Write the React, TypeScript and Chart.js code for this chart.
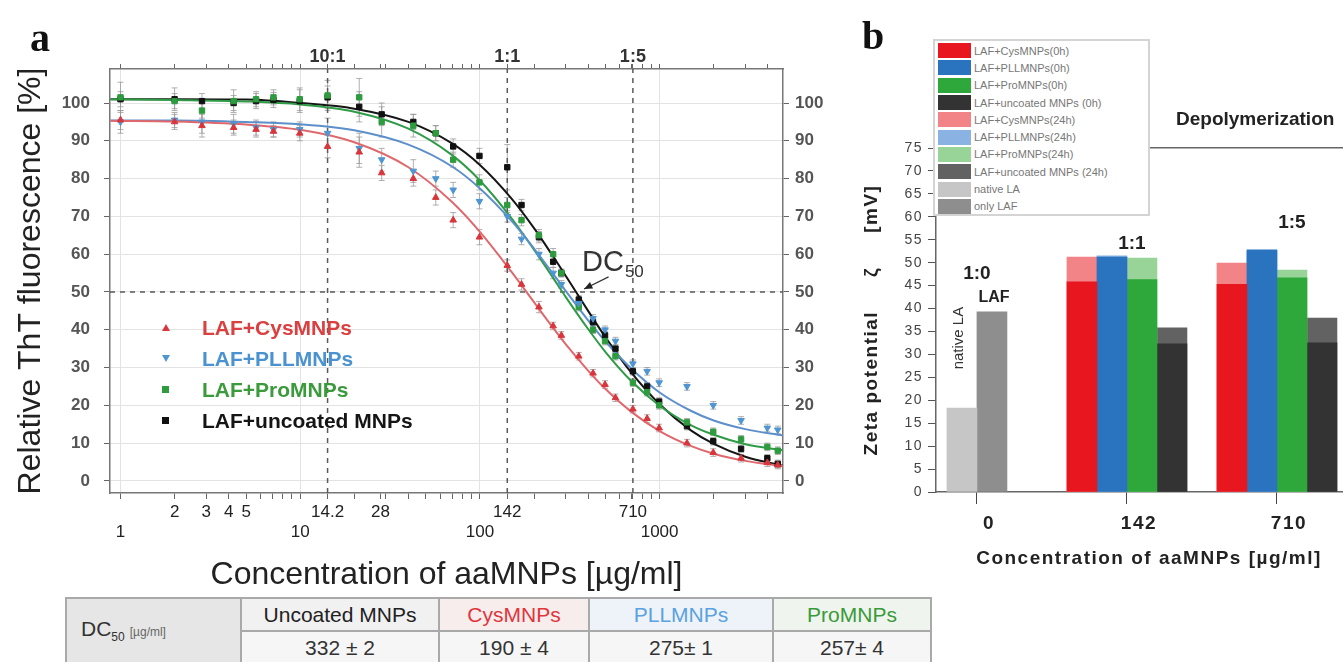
import React, { useEffect, useRef } from 'react';
import { Chart, registerables } from 'chart.js';

Chart.register(...registerables);

const SANS = '"Liberation Sans", Arial, Helvetica, sans-serif';
const SERIF = '"Liberation Serif", "Times New Roman", serif';

// ---------------- Panel a: ThT fluorescence vs concentration ----------------
const concentrations = [1, 2, 2.84, 4.26, 5.68, 7.1, 9.94, 14.2, 21.3, 28.4, 42.6, 56.8, 71, 99.4, 142, 170.4, 213, 255.6, 284, 355, 426, 497, 568, 710, 852, 994, 1420, 1988, 2840, 3976, 4544];
const cysMNPs = [95.5, 95, 94, 93.5, 93, 92.5, 92, 88.5, 87, 81.5, 80, 75, 69, 64.5, 57, 52, 46, 41, 38.5, 33, 28.5, 25.5, 22, 19, 16.5, 14, 10, 7.5, 6, 4.8, 4.2];
const pllMNPs = [95, 95.5, 95, 94.5, 93.5, 93, 93, 92, 88, 85, 82, 80, 77, 74, 70, 64, 60, 55, 52, 47, 43, 40, 37, 31, 29, 26, 25, 20, 16, 14, 13.5];
const proMNPs = [101.5, 100.5, 98, 100.5, 101, 101.5, 101, 102, 101.5, 95, 94, 92, 85, 79, 73, 69, 65, 60, 55, 46, 40, 37, 33, 26, 23.5, 20, 15.5, 13, 11, 9, 8];
const uncoatedMNPs = [101, 101, 100.5, 100, 100.5, 100.8, 100.5, 101.5, 99, 97, 95, 92, 88.5, 86, 83, 73, 64.5, 58, 55, 48, 42, 38.5, 35, 29, 25, 21, 14.5, 10.5, 8.5, 6, 4.5];

const cysErrors = [2.5, 2, 3, 2, 2, 1.5, 2, 3, 4, 2, 2, 2, 2, 2, 1.5, 1.5, 1.5, 1, 1, 1, 1, 1, 1, 1, 1, 1, 1, 1, 1, 1, 1];
const pllErrors = [3, 2, 3, 2.5, 2, 2, 2, 4, 4, 3, 3, 2, 2, 2, 1.5, 1.5, 1.5, 1.5, 1, 1, 1, 1, 1, 1, 1, 1, 1, 1, 1, 1, 1];
const proErrors = [4, 2, 2, 3, 2, 2, 3, 4, 5, 4, 3, 2, 2, 2, 2, 1.5, 1.5, 1.5, 1, 1, 1, 1, 1, 1, 1, 1, 1, 1, 1, 1, 1];
const uncoatedErrors = [2, 3, 2, 2, 2, 2, 3, 3, 4, 3, 2, 2, 2, 2, 6, 1.5, 1.5, 1.5, 1, 1, 1, 1, 1, 1, 1, 1, 1, 1, 1, 1, 1];

const fitConcentrations = [0.88, 2, 5, 10, 20, 40, 70, 100, 150, 200, 250, 300, 400, 500, 700, 1000, 1500, 2000, 3000, 4850];
const cysFit = [95.3, 95.1, 94.3, 92.9, 89.6, 83.0, 73.8, 65.9, 55.3, 47.3, 41.1, 36.2, 29.2, 24.3, 18.2, 13.2, 9.2, 7.2, 5.3, 3.9];
const pllFit = [95.4, 95.4, 95.0, 94.4, 92.8, 89.0, 83.2, 77.4, 68.8, 61.5, 55.4, 50.3, 42.5, 36.9, 29.6, 23.4, 18.5, 16.0, 13.7, 12.0];
const proFit = [101, 100.8, 100.4, 99.6, 97.7, 93.2, 86.2, 79.5, 69.5, 61.2, 54.4, 48.7, 40.2, 34.1, 26.3, 19.9, 14.7, 12.2, 9.7, 8.1];
const uncoatedFit = [101, 101, 100.9, 100.0, 98.5, 95.0, 89.3, 83.6, 74.7, 66.9, 60.1, 54.3, 45.0, 38.0, 28.5, 20.3, 13.3, 9.8, 6.4, 4.0];

const concTickValues = [1, 2, 3, 4, 5, 6, 7, 8, 9, 10, 14.2, 20, 28, 30, 40, 50, 60, 70, 80, 90, 100, 142, 200, 300, 400, 500, 600, 700, 710, 800, 900, 1000, 2000, 3000, 4000];
const concLabelValues = [1, 2, 3, 4, 5, 10, 14.2, 28, 100, 142, 710, 1000];
const concLabelTexts = ['1', '2', '3', '4', '5', '10', '14.2', '28', '100', '142', '710', '1000'];
const decadeValues = [1, 10, 100, 1000];
const ratioTickValues = [14.2, 142, 710];
const ratioTickTexts = ['10:1', '1:1', '1:5'];
const fluorescenceTicks = [0, 5, 10, 15, 20, 25, 30, 35, 40, 45, 50, 55, 60, 65, 70, 75, 80, 85, 90, 95, 100];
const halfLevel = 50;

// ---------------- Panel b: zeta potential ----------------
const zetaCategories = ['0', '142', '710'];
const nativeLA = [18.3];
const onlyLAF = [39.3];
const cys0h = [45.8, 45.3];
const pll0h = [51.2, 52.8];
const pro0h = [46.3, 46.7];
const uncoated0h = [32.3, 32.5];
const cys24h = [51.2, 49.9];
const pll24h = [51.5, 52.5];
const pro24h = [51.0, 48.4];
const uncoated24h = [35.8, 37.9];
const zetaTicks = [0, 5, 10, 15, 20, 25, 30, 35, 40, 45, 50, 55, 60, 65, 70, 75];

// ---------------- DC50 table ----------------
const dcHeaders = ['Uncoated MNPs', 'CysMNPs', 'PLLMNPs', 'ProMNPs'];
const dcValues = ['332 ± 2', '190 ± 4', '275± 1', '257± 4'];

// ---------------- geometry / styles ----------------
const A_W = 850, A_H = 600;
const X_MIN = 0.874, X_MAX = 4860;
const Y_MIN = -3.2, Y_MAX = 109;
const B_W = 512, B_H = 600;

const seriesA = [
  { label: 'LAF+CysMNPs', values: cysMNPs, errors: cysErrors, fit: cysFit, color: '#d8363c', lineColor: '#e0686c', text: '#d9403f', style: 'triangle', rotation: 0 },
  { label: 'LAF+PLLMNPs', values: pllMNPs, errors: pllErrors, fit: pllFit, color: '#4f95d2', lineColor: '#5d8fca', text: '#4a92d0', style: 'triangle', rotation: 180 },
  { label: 'LAF+ProMNPs', values: proMNPs, errors: proErrors, fit: proFit, color: '#2e9b3e', lineColor: '#2f9b47', text: '#3b9a3b', style: 'rect', rotation: 0 },
  { label: 'LAF+uncoated MNPs', values: uncoatedMNPs, errors: uncoatedErrors, fit: uncoatedFit, color: '#111111', lineColor: '#151515', text: '#151515', style: 'rect', rotation: 0 },
];

const zetaSeries = [
  { label: 'LAF+CysMNPs(0h)', values: cys0h, start: 1, stack: 'cys', color: '#e8161e' },
  { label: 'LAF+PLLMNPs(0h)', values: pll0h, start: 1, stack: 'pll', color: '#2a73bf' },
  { label: 'LAF+ProMNPs(0h)', values: pro0h, start: 1, stack: 'pro', color: '#2ea83a' },
  { label: 'LAF+uncoated MNPs (0h)', values: uncoated0h, start: 1, stack: 'unc', color: '#333333' },
  { label: 'LAF+CysMNPs(24h)', values: cys24h, start: 1, stack: 'cys', color: '#f28487' },
  { label: 'LAF+PLLMNPs(24h)', values: pll24h, start: 1, stack: 'pll', color: '#8ab2e2' },
  { label: 'LAF+ProMNPs(24h)', values: pro24h, start: 1, stack: 'pro', color: '#98d498' },
  { label: 'LAF+uncoated MNPs (24h)', values: uncoated24h, start: 1, stack: 'unc', color: '#626262' },
  { label: 'native LA', values: nativeLA, start: 0, stack: 'nla', color: '#c6c6c6' },
  { label: 'only LAF', values: onlyLAF, start: 0, stack: 'laf', color: '#8e8e8e' },
];

const dcHeaderColors = ['#222', '#e0353b', '#5aa2e0', '#3a9a3a'];
const dcHeaderBg = ['#f1f1f1', '#f8eded', '#eef3f9', '#eff5ee'];
const dcColWidths = [198, 150, 184, 158];

const findLabel = (v: number) => concLabelValues.findIndex((c) => Math.abs(c - v) < 1e-9);

function PanelA() {
  const ref = useRef<HTMLCanvasElement>(null);
  useEffect(() => {
    const errorBars = {
      id: 'errorBars',
      beforeDatasetsDraw(chart: any) {
        const { ctx, chartArea, scales } = chart;
        const x = scales.x, y = scales.y;
        ctx.save();
        ctx.beginPath();
        ctx.rect(chartArea.left, chartArea.top, chartArea.right - chartArea.left, chartArea.bottom - chartArea.top);
        ctx.clip();
        ctx.lineWidth = 1;
        ctx.strokeStyle = 'rgba(150,150,150,0.75)';
        seriesA.forEach((s) => {
          concentrations.forEach((c, i) => {
            const px = x.getPixelForValue(c);
            const top = y.getPixelForValue(s.values[i] + s.errors[i]);
            const bot = y.getPixelForValue(s.values[i] - s.errors[i]);
            ctx.beginPath();
            ctx.moveTo(px, top); ctx.lineTo(px, bot);
            ctx.moveTo(px - 3, top); ctx.lineTo(px + 3, top);
            ctx.moveTo(px - 3, bot); ctx.lineTo(px + 3, bot);
            ctx.stroke();
          });
        });
        ctx.restore();
      },
    };
    const dcAnnotation = {
      id: 'dcAnnotation',
      afterDatasetsDraw(chart: any) {
        const { ctx, scales } = chart;
        const x = scales.x, y = scales.y;
        const tx = x.getPixelForValue(370), ty = y.getPixelForValue(55.5);
        ctx.save();
        ctx.fillStyle = '#333';
        ctx.font = `29px ${SANS}`;
        ctx.textBaseline = 'alphabetic';
        ctx.fillText('DC', tx, ty);
        const w = ctx.measureText('DC').width;
        ctx.font = `17px ${SANS}`;
        ctx.fillText('50', tx + w + 1, ty + 6);
        const x1 = x.getPixelForValue(520), y1 = y.getPixelForValue(54);
        const x2 = x.getPixelForValue(380), y2 = y.getPixelForValue(50.8);
        ctx.strokeStyle = '#333';
        ctx.lineWidth = 1.2;
        ctx.beginPath(); ctx.moveTo(x1, y1); ctx.lineTo(x2, y2); ctx.stroke();
        const ang = Math.atan2(y2 - y1, x2 - x1);
        ctx.beginPath();
        ctx.moveTo(x2, y2);
        ctx.lineTo(x2 - 9 * Math.cos(ang - 0.4), y2 - 9 * Math.sin(ang - 0.4));
        ctx.lineTo(x2 - 9 * Math.cos(ang + 0.4), y2 - 9 * Math.sin(ang + 0.4));
        ctx.closePath();
        ctx.fillStyle = '#222';
        ctx.fill();
        ctx.restore();
      },
    };

    const scatterSets = seriesA.map((s) => ({
      type: 'scatter',
      label: s.label,
      data: concentrations.map((c, i) => ({ x: c, y: s.values[i] })),
      pointStyle: s.style,
      rotation: s.rotation,
      pointRadius: 3.8,
      backgroundColor: s.color,
      borderColor: s.color,
      borderWidth: 1,
      showLine: false,
      order: 0,
    }));
    const fitSets = seriesA.map((s) => ({
      type: 'line',
      label: s.label + ' fit',
      data: fitConcentrations.map((c, i) => ({ x: c, y: s.fit[i] })),
      borderColor: s.lineColor,
      borderWidth: 2,
      pointRadius: 0,
      cubicInterpolationMode: 'monotone',
      showLine: true,
      fill: false,
      order: 1,
    }));
    const refSets = [
      ...ratioTickValues.map((v) => ({ type: 'line', data: [{ x: v, y: Y_MIN }, { x: v, y: Y_MAX }] })),
      { type: 'line', data: [{ x: X_MIN, y: halfLevel }, { x: X_MAX, y: halfLevel }] },
    ].map((d) => ({ ...d, borderColor: '#5a5a5a', borderDash: [5, 5], borderWidth: 1.5, pointRadius: 0, showLine: true, fill: false, order: 2 }));

    const tickFont = { size: 17, family: SANS, weight: 'bold' as const };
    const chart = new Chart(ref.current as HTMLCanvasElement, {
      type: 'scatter',
      data: { datasets: [...scatterSets, ...fitSets, ...refSets] as any },
      options: {
        responsive: false,
        animation: false,
        devicePixelRatio: 1,
        layout: { padding: 0 },
        plugins: { legend: { display: false }, tooltip: { enabled: false } },
        scales: {
          x: {
            type: 'logarithmic',
            position: 'bottom',
            min: X_MIN,
            max: X_MAX,
            afterBuildTicks: (s: any) => { s.ticks = concTickValues.map((v) => ({ value: v })); },
            afterFit: (s: any) => { s.height = A_H - 493; },
            ticks: {
              autoSkip: false, maxRotation: 0, minRotation: 0, padding: 3,
              color: '#222', font: { size: 17, family: SANS },
              callback: (v: any) => {
                const i = findLabel(Number(v));
                if (i < 0) return '';
                return decadeValues.includes(concLabelValues[i]) ? ['', concLabelTexts[i]] : concLabelTexts[i];
              },
            },
            grid: {
              color: (c: any) => (c.tick && decadeValues.includes(c.tick.value) ? '#e3e3e3' : 'rgba(0,0,0,0)'),
              tickColor: '#666', tickLength: 6, lineWidth: 1,
            },
            border: { color: '#777', width: 1.5 },
            title: { display: true, text: 'Concentration of aaMNPs [µg/ml]', color: '#222', font: { size: 32, family: SANS }, padding: { top: 0, bottom: 6 } },
          },
          x2: {
            type: 'logarithmic',
            position: 'top',
            min: X_MIN,
            max: X_MAX,
            afterBuildTicks: (s: any) => { s.ticks = concTickValues.map((v) => ({ value: v })); },
            afterFit: (s: any) => { s.height = 69; },
            ticks: {
              autoSkip: false, maxRotation: 0, minRotation: 0, padding: -4,
              color: '#333', font: { size: 18, family: SANS, weight: 'bold' },
              callback: (v: any) => {
                const i = ratioTickValues.findIndex((r) => Math.abs(r - Number(v)) < 1e-9);
                return i < 0 ? '' : ratioTickTexts[i];
              },
            },
            grid: { drawOnChartArea: false, tickColor: '#666', tickLength: 5 },
            border: { color: '#777', width: 1.5 },
          },
          y: {
            type: 'linear',
            position: 'left',
            min: Y_MIN,
            max: Y_MAX,
            afterBuildTicks: (s: any) => { s.ticks = fluorescenceTicks.map((v) => ({ value: v })); },
            afterFit: (s: any) => { s.width = 110; },
            ticks: { color: '#555', font: tickFont, padding: 14, callback: (v: any) => (Number(v) % 10 === 0 ? String(v) : '') },
            grid: {
              color: (c: any) => (c.tick && c.tick.value % 10 === 0 ? '#e3e3e3' : 'rgba(0,0,0,0)'),
              tickColor: '#666', tickLength: 6,
            },
            border: { color: '#777', width: 1.5 },
            title: { display: true, text: 'Relative ThT fluorescence [%]', color: '#222', font: { size: 32, family: SANS }, padding: { top: 12, bottom: 0 } },
          },
          y2: {
            type: 'linear',
            position: 'right',
            min: Y_MIN,
            max: Y_MAX,
            afterBuildTicks: (s: any) => { s.ticks = fluorescenceTicks.map((v) => ({ value: v })); },
            afterFit: (s: any) => { s.width = A_W - 783; },
            ticks: { color: '#555', font: tickFont, padding: 6, callback: (v: any) => (Number(v) % 10 === 0 ? String(v) : '') },
            grid: { drawOnChartArea: false, tickColor: '#666', tickLength: 6 },
            border: { color: '#777', width: 1.5 },
          },
        },
      } as any,
      plugins: [errorBars, dcAnnotation],
    });
    return () => chart.destroy();
  }, []);
  return <canvas ref={ref} width={A_W} height={A_H} style={{ position: 'absolute', left: 0, top: 0, width: A_W, height: A_H }} />;
}

function PanelB() {
  const ref = useRef<HTMLCanvasElement>(null);
  useEffect(() => {
    const spacing = {
      id: 'spacing',
      beforeDraw(chart: any) {
        chart.ctx.letterSpacing = '1.5px';
      },
    };
    const barLabels = {
      id: 'barLabels',
      afterDatasetsDraw(chart: any) {
        const { ctx, scales } = chart;
        const x = scales.x, y = scales.y;
        ctx.save();
        ctx.letterSpacing = '0px';
        ctx.fillStyle = '#222';
        ctx.textAlign = 'center';
        ctx.textBaseline = 'middle';
        ctx.font = `bold 19px ${SANS}`;
        ctx.fillText('1:0', x.getPixelForValue(1), y.getPixelForValue(onlyLAF[0]) - 38);
        ctx.fillText('1:1', x.getPixelForValue(2) + 5, y.getPixelForValue(Math.max(cys24h[0], pll24h[0])) - 12);
        ctx.fillText('1:5', x.getPixelForValue(3) + 15, y.getPixelForValue(pll0h[1]) - 27);
        ctx.font = `bold 16px ${SANS}`;
        ctx.fillText('LAF', x.getPixelForValue(1) + 17, y.getPixelForValue(onlyLAF[0]) - 14);
        ctx.save();
        ctx.translate(x.getPixelForValue(1) - 18, y.getPixelForValue(nativeLA[0]) - 70);
        ctx.rotate(-Math.PI / 2);
        ctx.font = `15px ${SANS}`;
        ctx.fillStyle = '#333';
        ctx.fillText('native LA', 0, 0);
        ctx.restore();
        ctx.restore();
      },
    };
    const datasets = zetaSeries.map((s) => ({
      label: s.label,
      data: s.values.map((v, i) => ({ x: s.start + i + 1, y: v })),
      backgroundColor: s.color,
      borderWidth: 0,
      stack: s.stack,
    }));
    // controls and 0h bars first so they are drawn on top of the 24h bars
    const ordered = [datasets[8], datasets[9], datasets[0], datasets[1], datasets[2], datasets[3], datasets[4], datasets[5], datasets[6], datasets[7]];
    const xMin = 0.727, xMax = 3.567;
    const chart = new Chart(ref.current as HTMLCanvasElement, {
      type: 'bar',
      data: { datasets: ordered as any },
      options: {
        responsive: false,
        animation: false,
        devicePixelRatio: 1,
        layout: { padding: 0 },
        datasets: { bar: { barThickness: 30, skipNull: true, grouped: true } },
        plugins: { legend: { display: false }, tooltip: { enabled: false } },
        scales: {
          x: {
            type: 'linear',
            position: 'bottom',
            min: xMin,
            max: xMax,
            offset: false,
            afterBuildTicks: (s: any) => { s.ticks = zetaCategories.map((_, i) => ({ value: i + 1 })); },
            afterFit: (s: any) => { s.height = B_H - 492; },
            ticks: {
              autoSkip: false, maxRotation: 0, minRotation: 0, padding: 8, labelOffset: 12,
              color: '#222', font: { size: 19, family: SANS, weight: 'bold' },
              callback: (v: any) => zetaCategories[Number(v) - 1] ?? '',
            },
            grid: { drawOnChartArea: false, offset: false, tickColor: '#444', tickLength: 12 },
            border: { color: '#666', width: 1.5 },
            title: { display: true, text: 'Concentration of aaMNPs [µg/ml]', color: '#222', font: { size: 19, family: SANS, weight: 'bold' }, padding: { top: 0, bottom: 30 } },
          },
          xTop: {
            type: 'linear',
            position: 'top',
            min: xMin,
            max: xMax,
            ticks: { display: false },
            grid: { display: false },
            border: { display: true, color: '#666', width: 1.5 },
            afterFit: (s: any) => { s.height = 148; },
          },
          y: {
            type: 'linear',
            position: 'left',
            min: 0,
            max: 75,
            stacked: false,
            afterBuildTicks: (s: any) => {
              const all: number[] = [];
              zetaTicks.forEach((t, i) => { all.push(t); if (i < zetaTicks.length - 1) all.push((t + zetaTicks[i + 1]) / 2); });
              s.ticks = all.map((v) => ({ value: v }));
            },
            afterFit: (s: any) => { s.width = 86; },
            ticks: { color: '#444', font: { size: 14, family: SANS }, padding: 5, callback: (v: any) => (zetaTicks.includes(Number(v)) ? String(v) : '') },
            grid: { drawOnChartArea: false, tickColor: '#555', tickLength: 8 },
            border: { color: '#666', width: 1.5 },
            title: { display: true, text: 'Zeta potential     ζ     [mV]', color: '#222', font: { size: 19, family: SANS, weight: 'bold' }, padding: { top: 10, bottom: 0 } },
          },
        },
      } as any,
      plugins: [spacing, barLabels],
    });
    return () => chart.destroy();
  }, []);
  return <canvas ref={ref} width={B_W} height={B_H} style={{ position: 'absolute', left: 850, top: 0, width: B_W, height: B_H }} />;
}

function LegendA() {
  const marker = (i: number, color: string) => {
    if (i === 0) return <div style={{ width: 0, height: 0, borderLeft: '4px solid transparent', borderRight: '4px solid transparent', borderBottom: `7px solid ${color}` }} />;
    if (i === 1) return <div style={{ width: 0, height: 0, borderLeft: '4px solid transparent', borderRight: '4px solid transparent', borderTop: `7px solid ${color}` }} />;
    return <div style={{ width: 7, height: 7, background: color }} />;
  };
  return (
    <div style={{ position: 'absolute', left: 160, top: 312 }}>
      {seriesA.map((s, i) => (
        <div key={s.label} style={{ display: 'flex', alignItems: 'center', height: 31 }}>
          <div style={{ width: 40, display: 'flex', justifyContent: 'flex-start', paddingLeft: 2 }}>{marker(i, s.color)}</div>
          <span style={{ font: `bold 21px ${SANS}`, color: s.text, whiteSpace: 'nowrap' }}>{s.label}</span>
        </div>
      ))}
    </div>
  );
}

function LegendB() {
  return (
    <div style={{ position: 'absolute', left: 933, top: 39, width: 217, height: 177, border: '2px solid #d4d4d4', background: '#fff', boxSizing: 'border-box', paddingTop: 1 }}>
      {zetaSeries.map((s) => (
        <div key={s.label} style={{ display: 'flex', alignItems: 'center', height: 17.3 }}>
          <div style={{ width: 33, height: 15, background: s.color, marginLeft: 3, marginRight: 3 }} />
          <span style={{ font: `11px ${SANS}`, color: '#777', whiteSpace: 'nowrap' }}>{s.label}</span>
        </div>
      ))}
    </div>
  );
}

function DcTable() {
  const cell: React.CSSProperties = { border: '2px solid #a9a9a9', textAlign: 'center', padding: 0, height: 31, font: `21px ${SANS}`, color: '#333', whiteSpace: 'nowrap', overflow: 'hidden' };
  return (
    <table style={{ position: 'absolute', left: 65, top: 597, width: 865, tableLayout: 'fixed', borderCollapse: 'collapse', background: '#f6f6f6' }}>
      <colgroup>
        <col style={{ width: 175 }} />
        {dcColWidths.map((w, i) => <col key={i} style={{ width: w }} />)}
      </colgroup>
      <tbody>
        <tr>
          <td rowSpan={2} style={{ ...cell, background: '#e6e6e6', textAlign: 'left', paddingLeft: 14 }}>
            <span style={{ font: `21px ${SANS}`, color: '#333' }}>DC</span>
            <sub style={{ fontSize: 12 }}>50</sub>
            <span style={{ fontSize: 12, color: '#666', marginLeft: 5 }}>[µg/ml]</span>
          </td>
          {dcHeaders.map((h, i) => (
            <td key={h} style={{ ...cell, color: dcHeaderColors[i], background: dcHeaderBg[i] }}>{h}</td>
          ))}
        </tr>
        <tr>
          {dcValues.map((v, i) => (
            <td key={i} style={cell}>{v}</td>
          ))}
        </tr>
      </tbody>
    </table>
  );
}

export default function App() {
  return (
    <div style={{ position: 'absolute', left: 0, top: 0, width: 1343, height: 662, overflow: 'hidden', background: '#fff', fontFamily: SANS }}>
      <PanelA />
      <PanelB />
      <LegendA />
      <LegendB />
      <DcTable />
      <div style={{ position: 'absolute', left: 30, top: 14, font: `bold 40px ${SERIF}`, color: '#111' }}>a</div>
      <div style={{ position: 'absolute', left: 862, top: 12, font: `bold 40px ${SERIF}`, color: '#111' }}>b</div>
      <div style={{ position: 'absolute', left: 1176, top: 108, font: `bold 19px ${SANS}`, color: '#222', whiteSpace: 'nowrap' }}>Depolymerization</div>
    </div>
  );
}
